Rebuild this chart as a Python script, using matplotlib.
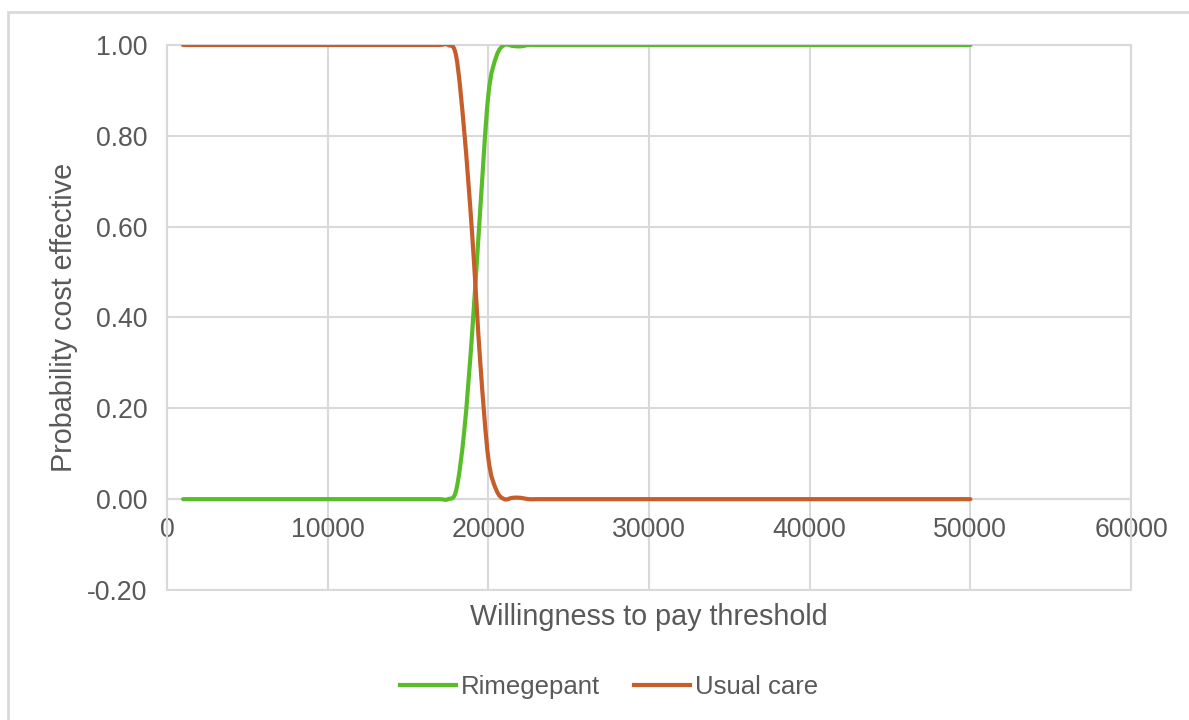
import numpy as np
import matplotlib.pyplot as plt
from matplotlib.path import Path
from matplotlib.patches import PathPatch, Rectangle
from matplotlib.lines import Line2D

plt.rcParams['font.family'] = ['Liberation Sans', 'DejaVu Sans']
plt.rcParams['axes.unicode_minus'] = False

# willingness to pay threshold (1000 .. 50000, step 500)
wtp = list(range(1000, 50001, 500))

# probability cost effective
rimegepant = ([0.0] * 34
              + [0.02, 0.15, 0.37, 0.64, 0.89, 0.975, 1.0, 0.998, 0.997]
              + [1.0] * 56)
usual_care = ([1.0] * 34
              + [0.975, 0.81, 0.58, 0.30, 0.09, 0.02, 0.0, 0.003, 0.003]
              + [0.0] * 56)

series_names = ['Rimegepant', 'Usual care']
series_colors = ['#59BD2A', '#C65D2A']


def excel_smooth(xs, ys):
    # bezier path like Excel's "smoothed line"
    xs = np.asarray(xs, float)
    ys = np.asarray(ys, float)
    n = len(xs)
    verts = [(xs[0], ys[0])]
    codes = [Path.MOVETO]
    for i in range(n - 1):
        i0 = max(i - 1, 0)
        i3 = min(i + 2, n - 1)
        c1 = (xs[i] + (xs[i + 1] - xs[i0]) / 6, ys[i] + (ys[i + 1] - ys[i0]) / 6)
        c2 = (xs[i + 1] - (xs[i3] - xs[i]) / 6, ys[i + 1] - (ys[i3] - ys[i]) / 6)
        verts += [c1, c2, (xs[i + 1], ys[i + 1])]
        codes += [Path.CURVE4] * 3
    return Path(verts, codes)


fig = plt.figure(figsize=(11.89, 7.2), dpi=100)
ax = fig.add_axes([167 / 1189, 1 - 590 / 720, (1131 - 167) / 1189, (590 - 45) / 720])

grid_c = '#D9D9D9'
text_c = '#595959'

handles = []
for ys, name, col in zip([rimegepant, usual_care], series_names, series_colors):
    p = PathPatch(excel_smooth(wtp, ys), fill=False, edgecolor=col, lw=3.0,
                  capstyle='round', joinstyle='round', zorder=3)
    ax.add_patch(p)
    handles.append(Line2D([], [], color=col, lw=3.0, label=name))

ax.set_xlim(0, 60000)
ax.set_ylim(-0.2, 1.0)
ax.set_xticks(np.arange(0, 60001, 10000))
ax.set_yticks(np.arange(-0.2, 1.01, 0.2))
ax.yaxis.set_major_formatter(plt.FormatStrFormatter('%.2f'))
ax.grid(True, color=grid_c, lw=1.5)
ax.set_axisbelow(True)

for s in ['top', 'right', 'left']:
    ax.spines[s].set_color(grid_c)
    ax.spines[s].set_linewidth(1.5)
ax.spines['bottom'].set_position(('data', 0))
ax.spines['bottom'].set_color(grid_c)
ax.spines['bottom'].set_linewidth(1.5)
# bottom border of plot area at -0.2
ax.axhline(-0.2, color=grid_c, lw=1.5, clip_on=False)

ax.tick_params(axis='both', length=0, labelsize=19.2, labelcolor=text_c)
ax.tick_params(axis='x', pad=13)
ax.tick_params(axis='y', pad=14)

ax.set_xlabel('Willingness to pay threshold', fontsize=20.7, color=text_c)
ax.xaxis.set_label_coords(0.5, -0.024)
ax.set_ylabel('Probability cost effective', fontsize=20.7, color=text_c)
ax.yaxis.set_label_coords(-0.092, 0.5)

fig.legend(handles=handles, loc='center', bbox_to_anchor=(609 / 1189, 1 - 687 / 720),
           ncol=2, frameon=False, fontsize=18.5, labelcolor=text_c,
           handlelength=2.2, columnspacing=1.3, handletextpad=0.2)

# chart border
fig.patches.append(Rectangle((8 / 1189, -0.05), 1.1, 1 - 12 / 720 + 0.05,
                             transform=fig.transFigure, fill=False,
                             edgecolor=grid_c, lw=2))

fig.savefig('out.png', dpi=100)
